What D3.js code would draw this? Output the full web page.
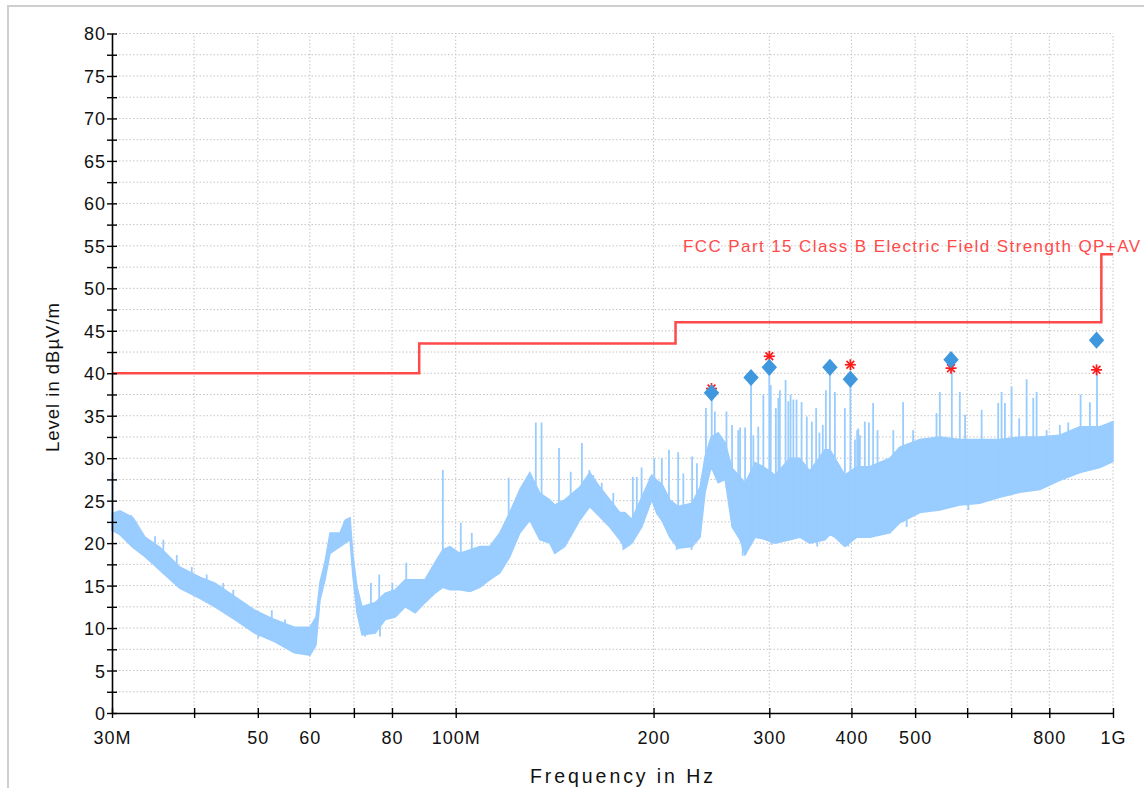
<!DOCTYPE html>
<html>
<head>
<meta charset="utf-8">
<script src="https://cdn.jsdelivr.net/npm/d3@7"></script>
<style>
  body { margin: 0; background: #fff; }
  svg text { font-family: "Liberation Sans", Arial, sans-serif; }
</style>
</head>
<body>
<div id="target"></div>
<script>
// trace envelope, MHz / dBuV/m
const traceFreq = [30.0, 30.85, 32.28, 33.68, 35.48, 38.02, 40.81, 43.03, 46.13, 49.45, 53.0, 56.82, 60.03, 61.3, 62.17, 63.27, 64.39, 66.68, 67.86, 69.06, 69.79, 70.78, 72.03, 75.44, 78.13, 80.92, 83.8, 86.79, 89.8, 92.98, 95.6, 97.98, 101.47, 105.09, 108.83, 112.7, 116.72, 120.87, 125.18, 129.64, 134.26, 139.04, 141.5, 146.54, 154.44, 159.95, 165.65, 171.55, 177.67, 180.8, 185.29, 191.9, 198.75, 202.27, 205.85, 211.7, 217.97, 228.9, 235.4, 239.6, 244.7, 250.8, 257.0, 263.4, 270.8, 275.6, 285.4, 293.5, 306.1, 322.4, 333.8, 345.7, 364.4, 370.9, 377.5, 390.9, 407.7, 426.7, 457.6, 473.9, 508.3, 545.2, 584.7, 627.0, 672.6, 721.5, 774.0, 830.1, 890.5, 955.2, 1000]
const traceHigh = [23.5, 23.8, 23.0, 20.7, 19.5, 17.2, 16.0, 15.3, 13.7, 12.1, 11.0, 10.1, 10.1, 11.3, 15.4, 17.8, 21.2, 21.2, 22.7, 23.0, 18.5, 14.8, 12.5, 13.0, 14.1, 14.5, 15.7, 15.7, 15.7, 17.7, 19.2, 19.6, 18.8, 19.2, 19.6, 19.6, 21.2, 23.6, 26.3, 28.3, 25.9, 25.1, 24.5, 25.1, 26.6, 28.3, 26.6, 25.1, 23.6, 23.6, 22.8, 25.4, 28.0, 27.4, 27.0, 25.1, 24.3, 24.7, 26.6, 30.2, 32.5, 33.0, 31.8, 28.8, 27.8, 27.0, 29.5, 29.0, 28.0, 30.0, 30.0, 28.5, 31.0, 31.0, 30.0, 28.0, 29.0, 29.0, 30.0, 31.3, 32.2, 32.5, 32.2, 32.2, 32.2, 32.5, 32.5, 32.7, 33.7, 33.7, 34.3]
const traceLow = [21.5, 21.0, 19.5, 18.4, 16.8, 14.7, 13.5, 12.5, 11.0, 9.4, 8.4, 7.1, 6.8, 8.0, 13.3, 15.7, 18.8, 19.6, 20.0, 20.4, 16.0, 11.8, 9.2, 9.4, 11.0, 11.3, 12.5, 11.8, 13.0, 14.1, 14.8, 14.5, 14.5, 14.3, 14.8, 15.7, 16.5, 18.4, 21.2, 22.7, 20.4, 20.0, 18.8, 19.6, 22.7, 24.3, 23.1, 21.9, 20.4, 19.4, 20.0, 21.9, 25.1, 23.5, 22.7, 20.7, 19.4, 19.6, 20.7, 26.0, 29.0, 27.1, 27.5, 21.9, 20.4, 18.6, 20.7, 20.5, 20.0, 20.4, 20.7, 20.0, 20.4, 21.0, 20.7, 19.6, 20.7, 20.7, 21.2, 22.4, 23.6, 23.9, 24.5, 24.7, 25.4, 26.0, 26.3, 27.4, 28.3, 28.9, 29.6]

// narrow spikes above the band
const spikeFreq = [30.05, 32.06, 34.88, 35.91, 37.64, 39.67, 41.8, 44.3, 45.88, 48.64, 52.51, 55.0, 59.34, 74.3, 76.5, 80.1, 84.1, 95.6, 101.8, 105.8, 120.4, 132.4, 135.1, 143.6, 149.6, 155.6, 159.7, 161.9, 166.8, 173.7, 186.0, 188.6, 191.8, 197.6, 200.5, 205.9, 211.1, 218.0, 222.0, 228.9, 232.8, 240.3, 245.2, 247.9, 258.2, 263.3, 269.1, 270.8, 275.6, 281.4, 283.7, 288.6, 293.8, 300.0, 301.5, 307.0, 309.7, 311.3, 317.6, 320.7, 323.2, 326.4, 330.0, 335.9, 342.1, 348.2, 353.5, 357.6, 361.8, 365.7, 370.9, 377.5, 390.9, 398.5, 405.0, 408.1, 409.7, 412.0, 419.2, 425.2, 431.6, 438.3, 463.2, 479.4, 496.5, 538.9, 545.2, 568.6, 584.7, 595.6, 631.2, 668.9, 676.8, 684.8, 701.0, 719.9, 738.9, 756.3, 765.2, 792.6, 830.1, 854.9, 892.7, 922.3, 945.6, 994.7]
const spikeTop = [28.3, 23.3, 20.8, 20.4, 18.6, 17.2, 16.3, 15.3, 14.5, 12.4, 12.1, 11.0, 9.8, 15.3, 16.3, 15.3, 17.7, 28.6, 22.4, 21.2, 27.7, 34.2, 34.2, 31.2, 28.4, 31.8, 28.6, 28.0, 27.1, 25.9, 27.8, 27.8, 28.9, 27.8, 30.0, 30.0, 31.0, 30.7, 28.2, 30.2, 29.4, 35.9, 37.5, 35.5, 35.5, 33.9, 33.3, 33.6, 33.6, 39.6, 32.7, 33.7, 37.5, 40.7, 38.6, 35.9, 37.1, 38.0, 39.2, 36.7, 37.5, 36.9, 36.9, 36.6, 34.9, 34.3, 35.9, 33.0, 33.9, 38.0, 40.7, 37.8, 35.9, 39.2, 32.2, 33.3, 33.5, 32.7, 34.3, 34.2, 36.5, 33.3, 33.3, 36.6, 33.3, 35.3, 37.8, 40.3, 37.8, 35.1, 35.7, 36.5, 37.8, 36.5, 38.4, 34.7, 39.3, 37.1, 37.8, 33.3, 33.9, 34.2, 37.5, 36.6, 40.4, 34.3]

// narrow dips below the band
const dipFreq = [50.08, 72.8, 76.7, 179.9, 216.9, 228.5, 273.3, 302.5, 354.8, 395.7, 463.2, 485.4, 602.5]
const dipBottom = [8.8, 9.0, 9.0, 19.2, 19.2, 19.2, 18.5, 19.8, 19.6, 19.6, 21.9, 21.9, 23.9]

// limit line (step after)
const limitFreq = [30, 88, 216, 960, 1000]
const limitLevel = [40, 43.5, 46, 54, 54]
const limitName = 'FCC Part 15 Class B Electric Field Strength QP+AV'

// final (diamond) and peak (asterisk) markers
const finalFreq = [245, 281.4, 300, 371, 398.5, 567, 944]
const finalLevel = [37.7, 39.5, 40.7, 40.7, 39.3, 41.6, 43.9]
const peakFreq = [245, 300, 398.5, 567, 944]
const peakLevel = [38.2, 42.0, 41.0, 40.6, 40.4]

const xTicks = [30, 40, 50, 60, 70, 80, 100, 200, 300, 400, 500, 600, 700, 800, 1000]
const xTickLabels = ['30M', '', '50', '60', '', '80', '100M', '200', '300', '400', '500', '', '', '800', '1G']
const xGrid = [40, 50, 60, 70, 80, 100, 200, 300, 400, 500, 600, 700, 800, 1000]
const yTicks = d3.range(0, 80.1, 2.5)

const colors = {
    trace: '#99ccff',
    limit: '#ff4a4a',
    diamond: '#3f97dd',
    peak: '#ff1a1a',
    grid: '#c4c4c4',
    frame: '#cfcfcf'
}

const width = 1144, height = 788
const svg = d3.select('#target').append('svg')
    .attr('width', width)
    .attr('height', height)

// outer frame
svg.append('path')
    .attr('d', `M8,${height}V6H${width}`)
    .attr('fill', 'none')
    .attr('stroke', colors.frame)
    .attr('stroke-width', 2)

const x = d3.scaleLog().domain([30, 1000]).range([112, 1113])
const y = d3.scaleLinear().domain([0, 80]).range([713, 33.5])

//Grid
const grid = svg.append('g')
grid.selectAll('.hg')
    .data(yTicks.filter(d => d > 0))
    .enter().append('line')
    .attr('x1', x(30)).attr('x2', x(1000))
    .attr('y1', d => y(d)).attr('y2', d => y(d))
grid.selectAll('.vg')
    .data(xGrid)
    .enter().append('line')
    .attr('x1', d => x(d)).attr('x2', d => x(d))
    .attr('y1', y(0)).attr('y2', y(80))
grid.selectAll('line')
    .attr('stroke', colors.grid)
    .attr('stroke-width', 1)
    .attr('stroke-dasharray', '1.5,2')

//Trace
const band = d3.area()
    .x((d, i) => x(traceFreq[i]))
    .y0((d, i) => y(traceLow[i]))
    .y1((d, i) => y(traceHigh[i]))

svg.append('path')
    .attr('d', band(traceFreq))
    .attr('fill', colors.trace)
    .attr('stroke', colors.trace)
    .attr('stroke-width', 1.5)

const envAt = (arr, f) => {
    const i = Math.min(Math.max(d3.bisectLeft(traceFreq, f), 1), traceFreq.length - 1)
    const t = (f - traceFreq[i - 1]) / (traceFreq[i] - traceFreq[i - 1])
    return arr[i - 1] + t * (arr[i] - arr[i - 1])
}

const traceMarks = svg.append('g')
    .attr('stroke', colors.trace)
    .attr('stroke-width', 1.8)

traceMarks.selectAll('.spike')
    .data(spikeFreq)
    .enter().append('line')
    .attr('x1', d => x(d)).attr('x2', d => x(d))
    .attr('y1', d => y(envAt(traceLow, d)))
    .attr('y2', (d, i) => y(spikeTop[i]))

traceMarks.selectAll('.dip')
    .data(dipFreq)
    .enter().append('line')
    .attr('x1', d => x(d)).attr('x2', d => x(d))
    .attr('y1', d => y(envAt(traceHigh, d)))
    .attr('y2', (d, i) => y(dipBottom[i]))

//Limit
const limitLine = d3.line()
    .x((d, i) => x(limitFreq[i]))
    .y((d, i) => y(limitLevel[i]))
    .curve(d3.curveStepAfter)

svg.append('path')
    .attr('d', limitLine(limitFreq))
    .attr('fill', 'none')
    .attr('stroke', colors.limit)
    .attr('stroke-width', 2.5)

svg.append('text')
    .attr('x', 683)
    .attr('y', 251.5)
    .attr('font-size', 17)
    .attr('textLength', 457)
    .attr('lengthAdjust', 'spacing')
    .attr('fill', colors.limit)
    .text(limitName)

//Markers
const star = svg.append('g')
    .selectAll('g')
    .data(peakFreq)
    .enter().append('g')
    .attr('transform', (d, i) => `translate(${x(d)},${y(peakLevel[i])})`)
star.selectAll('line')
    .data([0, 45, 90, 135])
    .enter().append('line')
    .attr('x1', a => -5.5 * Math.cos(a * Math.PI / 180))
    .attr('y1', a => -5.5 * Math.sin(a * Math.PI / 180))
    .attr('x2', a => 5.5 * Math.cos(a * Math.PI / 180))
    .attr('y2', a => 5.5 * Math.sin(a * Math.PI / 180))
    .attr('stroke', colors.peak)
    .attr('stroke-width', 1.7)

svg.append('g')
    .selectAll('path')
    .data(finalFreq)
    .enter().append('path')
    .attr('d', d3.symbol(d3.symbolSquare, 118)())
    .attr('transform', (d, i) => `translate(${x(d)},${y(finalLevel[i])}) scale(1,1.12) rotate(45)`)
    .attr('fill', colors.diamond)

//Axes
const xAxis = svg.append('g')
    .attr('transform', `translate(0,${y(0)})`)
    .call(d3.axisBottom(x)
        .tickValues(xTicks)
        .tickFormat((d, i) => xTickLabels[i])
        .tickSizeOuter(0))
xAxis.selectAll('.tick line').attr('y1', -5).attr('y2', 5)
xAxis.selectAll('.tick text').attr('dy', null).attr('y', 31)

const yAxis = svg.append('g')
    .attr('transform', `translate(${x(30)},0)`)
    .call(d3.axisLeft(y)
        .tickValues(yTicks)
        .tickFormat(d => d % 5 === 0 ? d : '')
        .tickSizeOuter(0))
yAxis.selectAll('.tick line').attr('x1', -5).attr('x2', 5)
yAxis.selectAll('.tick text').attr('x', -6).attr('dy', '0.36em')

svg.selectAll('.domain').attr('stroke', '#000').attr('stroke-width', 1.6)
svg.selectAll('.tick line').attr('stroke', '#000').attr('stroke-width', 1.4)
svg.selectAll('.tick text')
    .attr('font-size', 18)
    .attr('font-family', '"Liberation Sans", Arial, sans-serif')
    .attr('letter-spacing', 1)
    .attr('fill', '#111')

//Axis titles
svg.append('text')
    .attr('x', 530)
    .attr('y', 783)
    .attr('font-size', 19.5)
    .attr('textLength', 183)
    .attr('lengthAdjust', 'spacing')
    .attr('fill', '#111')
    .text('Frequency in Hz')

svg.append('text')
    .attr('transform', 'translate(59,452) rotate(-90)')
    .attr('font-size', 18.5)
    .attr('textLength', 149)
    .attr('lengthAdjust', 'spacing')
    .attr('fill', '#111')
    .text('Level in dBµV/m')
</script>
</body>
</html>
